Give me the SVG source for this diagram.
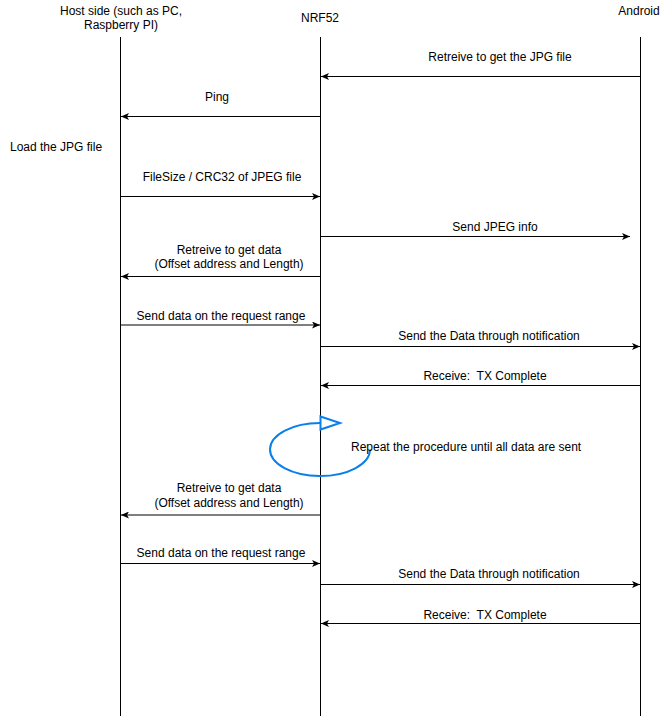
<svg xmlns="http://www.w3.org/2000/svg" width="663" height="718" viewBox="0 0 663 718">
<style>
text{font-family:"Liberation Sans",Arial,sans-serif;font-size:12px;fill:#000;white-space:pre}
.c{text-anchor:middle}
.life{stroke:#000;stroke-width:1;fill:none}
.msg{stroke:#000;stroke-width:1;fill:none;marker-end:url(#ah)}
</style>
<defs>
<marker id="ah" markerWidth="8" markerHeight="7" refX="8" refY="3.5" orient="auto" markerUnits="userSpaceOnUse">
<path d="M0,0 L8,3.5 L0,7 L2,3.5 z" fill="#000"/>
</marker>
</defs>
<rect width="663" height="718" fill="#fff"/>
<g id="host">
<text class="c" x="121" y="15">Host side (such as PC,</text>
<text class="c" x="121" y="29">Raspberry PI)</text>
<line class="life" x1="120.5" y1="37" x2="120.5" y2="716"/>
</g>
<g id="nrf52">
<text class="c" x="320" y="22">NRF52</text>
<line class="life" x1="320.5" y1="37" x2="320.5" y2="716"/>
</g>
<g id="android">
<text class="c" x="639" y="15">Android</text>
<line class="life" x1="640.5" y1="37" x2="640.5" y2="716"/>
</g>
<g id="load-note">
<text x="10" y="151">Load the JPG file</text>
</g>
<g id="loop">
<path d="M370,449.5 A50,26.5 0 1 1 320.5,423" fill="none" stroke="#0A7FEB" stroke-width="2"/>
<path d="M320.5,416.5 L340,423 L320.5,429.5 Z" fill="#fff" stroke="#0A7FEB" stroke-width="2"/>
<text x="351" y="451">Repeat the procedure until all data are sent</text>
</g>
<g id="connectors">
<line class="msg" x1="640.5" y1="76.5" x2="321" y2="76.5"/>
<text class="c" x="500" y="61">Retreive to get the JPG file</text>
<line class="msg" x1="320.5" y1="116.5" x2="121" y2="116.5"/>
<text class="c" x="217" y="101">Ping</text>
<line class="msg" x1="120.5" y1="196.5" x2="320" y2="196.5"/>
<text class="c" x="222" y="181">FileSize / CRC32 of JPEG file</text>
<line class="msg" x1="320.5" y1="236.5" x2="630" y2="236.5"/>
<text class="c" x="495" y="231">Send JPEG info</text>
<line class="msg" x1="320.5" y1="276.5" x2="121" y2="276.5"/>
<text class="c" x="229" y="254">Retreive to get data</text>
<text class="c" x="229" y="268">(Offset address and Length)</text>
<line class="msg" x1="120.5" y1="325" x2="320" y2="325"/>
<text class="c" x="221" y="320">Send data on the request range</text>
<line class="msg" x1="320.5" y1="346.5" x2="640" y2="346.5"/>
<text class="c" x="489" y="340">Send the Data through notification</text>
<line class="msg" x1="640.5" y1="385.5" x2="321" y2="385.5"/>
<text class="c" x="485" y="380">Receive:  TX Complete</text>
<line class="msg" x1="320.5" y1="515" x2="121" y2="515"/>
<text class="c" x="229" y="492">Retreive to get data</text>
<text class="c" x="229" y="507">(Offset address and Length)</text>
<line class="msg" x1="120.5" y1="563.5" x2="320" y2="563.5"/>
<text class="c" x="221" y="557">Send data on the request range</text>
<line class="msg" x1="320.5" y1="584.5" x2="640" y2="584.5"/>
<text class="c" x="489" y="578">Send the Data through notification</text>
<line class="msg" x1="640.5" y1="623.5" x2="321" y2="623.5"/>
<text class="c" x="485" y="619">Receive:  TX Complete</text>
</g>
</svg>
